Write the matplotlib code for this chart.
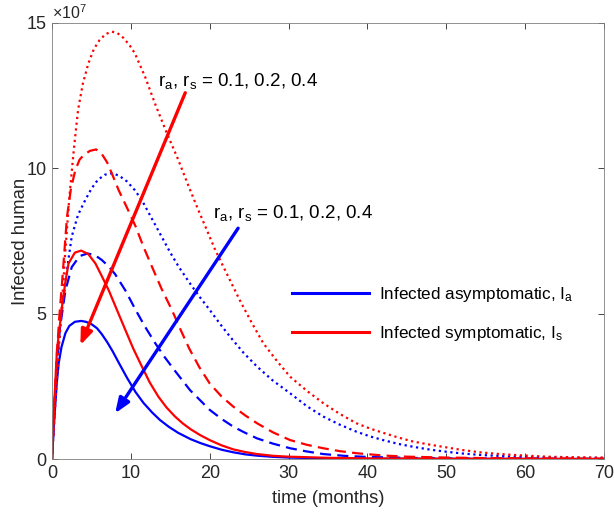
import matplotlib
matplotlib.use("Agg")
import matplotlib.pyplot as plt
import numpy as np

plt.rcParams['font.family'] = ['Liberation Sans', 'DejaVu Sans']
plt.rcParams['mathtext.fontset'] = 'custom'
plt.rcParams['mathtext.rm'] = 'Liberation Sans'
plt.rcParams['mathtext.it'] = 'Liberation Sans'

# ---- data (values in units of 1e7 infected humans) ----
t_a1 = [0, 0.2, 0.4, 0.6, 0.85, 1.2, 1.7, 2.2, 2.9, 3.7, 4.3, 5.0, 5.7, 6.3, 7.0, 7.7, 8.45, 9.5, 10.6, 11.6, 12.7,
        13.7, 14.8, 16, 17.6, 18.8, 20, 21.5, 23, 24.5, 26, 28, 30, 35, 40, 70]
Ia_01 = [0, 1.0, 1.8, 2.6, 3.3, 3.85, 4.33, 4.58, 4.72, 4.75, 4.72, 4.64, 4.5, 4.3, 4.02, 3.7, 3.32, 2.8, 2.3, 1.93, 1.6,
         1.34, 1.11, 0.9, 0.68, 0.55, 0.44, 0.32, 0.23, 0.16, 0.115, 0.075, 0.05, 0.02, 0.01, 0.0]

t_a2 = [0, 0.5, 1.0, 1.7, 2.5, 3.5, 4.5, 5.4, 6.3, 7.2, 8.0, 9.3, 10.6, 11.8, 13.1, 14.3, 15.6, 17.5, 20, 21.5,
        23, 24.5, 26, 28, 30.2, 32.3, 34.4, 37, 40, 45, 50, 60, 70]
Ia_02 = [0, 2.8, 4.5, 5.8, 6.6, 6.98, 7.07, 7.02, 6.85, 6.62, 6.36, 5.8, 5.13, 4.55, 3.98, 3.5, 3.03, 2.37, 1.69, 1.38,
         1.11, 0.9, 0.71, 0.53, 0.37, 0.26, 0.17, 0.11, 0.07, 0.04, 0.02, 0.01, 0.0]

t_a4 = [0, 0.4, 0.85, 1.2, 1.7, 2.1, 2.5, 3.3, 4.2, 5.0, 5.8, 6.7, 7.6, 8.5, 9.5, 10.5, 11.4, 12.6, 13.9, 15.0,
        16.1, 17.6, 18.8, 20, 21.3, 22.6, 24.3, 26, 28, 30.2, 32.3, 34.4, 36.5, 38.6, 40.3, 42, 43.9, 45.8, 48, 50,
        52, 54.3, 56.4, 58.5, 62.7, 66, 70]
Ia_04 = [0, 2.2, 4.0, 5.0, 6.05, 6.9, 7.65, 8.4, 8.9, 9.3, 9.6, 9.78, 9.83, 9.75, 9.55, 9.25, 8.9, 8.3, 7.65, 7.1,
         6.6, 6.0, 5.55, 5.13, 4.65, 4.2, 3.65, 3.18, 2.7, 2.26, 1.82, 1.46, 1.18, 0.94, 0.78, 0.65, 0.52, 0.42, 0.32, 0.25,
         0.19, 0.14, 0.11, 0.08, 0.05, 0.04, 0.03]

t_s1 = [0, 0.3, 0.63, 1.0, 1.27, 1.7, 2.1, 2.9, 3.7, 4.6, 5.5, 6.3, 7.2, 8.2, 9.3, 10.3, 11.4, 12.4, 13.5, 14.5,
        15.6, 16.6, 17.6, 18.8, 20, 21.5, 23, 24.5, 26, 28, 30, 35, 40, 50, 70]
Is_01 = [0, 2.0, 3.75, 4.6, 5.24, 6.1, 6.73, 7.1, 7.17, 7.05, 6.73, 6.3, 5.8, 5.15, 4.44, 3.8, 3.18, 2.63, 2.14, 1.78,
         1.46, 1.22, 1.02, 0.82, 0.65, 0.47, 0.33, 0.24, 0.17, 0.11, 0.08, 0.04, 0.02, 0.01, 0.0]

t_s2 = [0, 0.3, 0.6, 0.9, 1.27, 1.9, 2.4, 2.96, 3.5, 4.0, 4.8, 5.6, 6.3, 7.0, 7.7, 8.45, 9.5, 10.6, 11.6, 12.7,
        13.9, 15.2, 16.3, 17.4, 18.7, 20, 21.5, 23, 24.5, 26, 28, 30.2, 32.3, 34.4, 36.5, 38.6, 42, 45, 50, 55, 62, 70]
Is_02 = [0, 1.9, 3.5, 4.8, 6.05, 8.33, 9.3, 9.94, 10.3, 10.45, 10.6, 10.65, 10.5, 10.2, 9.75, 9.25, 8.65, 8.0, 7.3, 6.6,
         5.85, 5.13, 4.45, 3.8, 3.15, 2.6, 2.15, 1.8, 1.5, 1.23, 0.92, 0.65, 0.49, 0.37, 0.27, 0.2, 0.12, 0.08, 0.05, 0.03, 0.02, 0.01]

t_s4 = [0, 0.4, 0.85, 1.3, 1.7, 2.2, 2.75, 3.3, 3.9, 4.6, 5.3, 6.0, 6.8, 7.6, 8.3, 9.0, 9.8, 10.5, 11.8, 13.1,
        14.5, 16.0, 17.3, 18.5, 19.6, 20.7, 22.3, 23.8, 25.3, 26.8, 28.5, 30.2, 32.3, 34.4, 36.5, 38.6, 40.3, 42, 43.9, 45.8,
        48, 50, 52, 54.3, 56.4, 58.5, 60.6, 62.7, 66, 70]
Is_04 = [0, 1.8, 3.75, 5.5, 7.2, 9.0, 10.6, 12.0, 12.9, 13.6, 14.1, 14.4, 14.62, 14.7, 14.65, 14.5, 14.25, 13.96, 13.15, 12.2,
         11.25, 10.3, 9.4, 8.6, 7.9, 7.19, 6.3, 5.47, 4.7, 3.98, 3.38, 2.83, 2.35, 1.92, 1.55, 1.23, 1.05, 0.9, 0.74, 0.6,
         0.49, 0.4, 0.31, 0.23, 0.18, 0.14, 0.11, 0.08, 0.06, 0.05]

legend_labels = ['Infected asymptomatic, $\\mathregular{I_a}$', 'Infected symptomatic, $\\mathregular{I_s}$']
annot_text = '$\\mathregular{r_a}$, $\\mathregular{r_s}$ = 0.1, 0.2, 0.4'

x_ticks = [0, 10, 20, 30, 40, 50, 60, 70]
y_ticks = [0, 5, 10, 15]

fig = plt.figure(figsize=(6.14, 5.14), dpi=100)
ax = fig.add_axes([0.0847, 0.107, 0.899, 0.8483])

blue = (0, 0, 1)
red = (1, 0, 0)
lw = 1.6

la, = ax.plot(t_a1, Ia_01, color=blue, lw=lw)
ax.plot(t_a2, Ia_02, color=blue, lw=lw, dashes=(5, 2.8))
ax.plot(t_a4, Ia_04, color=blue, lw=lw, dashes=(1, 1.6))
ls_, = ax.plot(t_s1, Is_01, color=red, lw=lw)
ax.plot(t_s2, Is_02, color=red, lw=lw, dashes=(5, 2.8))
ax.plot(t_s4, Is_04, color=red, lw=lw, dashes=(1, 1.6))

# arrows
ax.annotate('', xy=(3.6, 3.92), xytext=(16.9, 12.6),
            arrowprops=dict(arrowstyle='-|>,head_length=0.9,head_width=0.35', color=red, lw=2.4,
                            shrinkA=0, shrinkB=0))
ax.annotate('', xy=(8.0, 1.57), xytext=(23.6, 7.94),
            arrowprops=dict(arrowstyle='-|>,head_length=0.9,head_width=0.35', color=blue, lw=2.4,
                            shrinkA=0, shrinkB=0))

ax.text(13.4, 13.0, annot_text, fontsize=13.5, va='center', ha='left')
ax.text(20.4, 8.46, annot_text, fontsize=13.5, va='center', ha='left')

leg = ax.legend([la, ls_], legend_labels, frameon=False, fontsize=12.3,
                loc='upper left', bbox_to_anchor=(0.434, 0.40), borderaxespad=0, borderpad=0,
                handlelength=4.56, handletextpad=0.58, labelspacing=1.17)
for h in leg.get_lines():
    h.set_linewidth(2.2)

ax.set_xlim(0, 70)
ax.set_ylim(0, 15)
ax.set_xticks(x_ticks)
ax.set_yticks(y_ticks)
ax.tick_params(direction='in', top=True, right=True, labelsize=13, length=4, width=0.6,
               colors='#262626', pad=4)
for sp in ax.spines.values():
    sp.set_linewidth(0.6)
    sp.set_color('#7f7f7f')

ax.text(0.0, 1.009, '$\\mathregular{\\times 10^{7}}$', transform=ax.transAxes, fontsize=11.5,
        ha='left', va='baseline', color='#262626')

ax.set_xlabel('time (months)', fontsize=13.2, color='#262626')
ax.xaxis.set_label_coords(0.5, -0.07)
ax.set_ylabel('Infected human', fontsize=13.3, color='#262626')
ax.yaxis.set_label_coords(-0.042, 0.5)

fig.savefig('out.png', dpi=100)
